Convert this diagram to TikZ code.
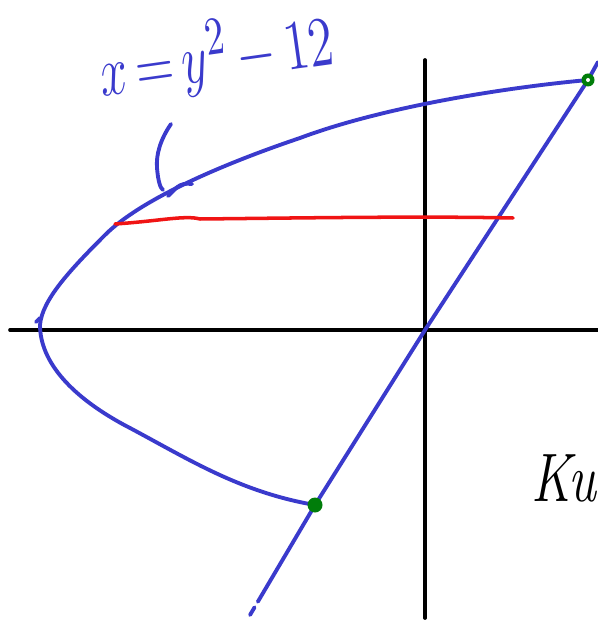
\documentclass[tikz,border=0pt]{standalone}
\usetikzlibrary{calc}
\definecolor{pen}{RGB}{58,58,204}
\definecolor{dotgreen}{RGB}{0,125,10}
\definecolor{redpen}{RGB}{240,20,20}
\begin{document}
\begin{tikzpicture}[x=0.01cm, y=-0.01cm, line cap=round, line join=round,
    curve/.style={pen, line width=1.1pt},
    axis/.style={black, line width=1.05pt}]
		\useasboundingbox (0,0) rectangle (598,622);
		\clip (0,0) rectangle (598,622);
		\coordinate (O)   at (425,330);
		\coordinate (P)   at (588,80);
		\coordinate (Q)   at (315,505);
		\coordinate (V)   at (40,325);
		% axes
		\draw[axis] (10,330) -- (598,330);
		\draw[axis] (425,60) -- (425,618);
		% parabola x = y^2 - 12
		\draw[curve] (P) .. controls (500,88) and (380,108) .. (300,138)
			.. controls (220,165) and (140,200) .. (105,235)
			.. controls (70,270) and (42,300) .. (V)
			.. controls (40,362) and (72,398) .. (130,428)
			.. controls (190,460) and (240,492) .. (Q);
		\draw[curve] (36,322) -- (40,318);
		% line y = x
		\draw[curve] (598,62) -- (P) -- (O) -- (Q) -- ($(Q)!0.88!(250,615)$);
		\draw[curve] ($(Q)!0.93!(250,615)$) -- (250,615);
		% horizontal slice
		\draw[redpen, line width=1pt] (115,224) .. controls (160,221) and (185,215) .. (200,219)
			.. controls (300,218) and (420,216) .. (513,218);
		% pointer to the curve
		\draw[curve] (171,124) .. controls (160,140) and (156,155) .. (157,168)
			.. controls (158,180) and (160,188) .. (163,190);
		\draw[curve] (168,196) .. controls (175,190) and (178,182) .. (192,184);
		\node[pen, rotate=8, yscale=1.4, font=\fontsize{15}{18}\selectfont] (eqlabel)
			at (216,57) {$x\,{=}\,y^2\,{-}\,12$};
		\node[anchor=west, yscale=1.3, inner sep=1pt, font=\fontsize{15}{18}\selectfont\itshape] (kutext) at (527,478) {Ku};
		% intersection points
		\fill[dotgreen] (P) circle (6.5);
		\fill[dotgreen] (Q) circle (7.5);
		\fill[white] (P) circle (2);
\end{tikzpicture}
\end{document}
